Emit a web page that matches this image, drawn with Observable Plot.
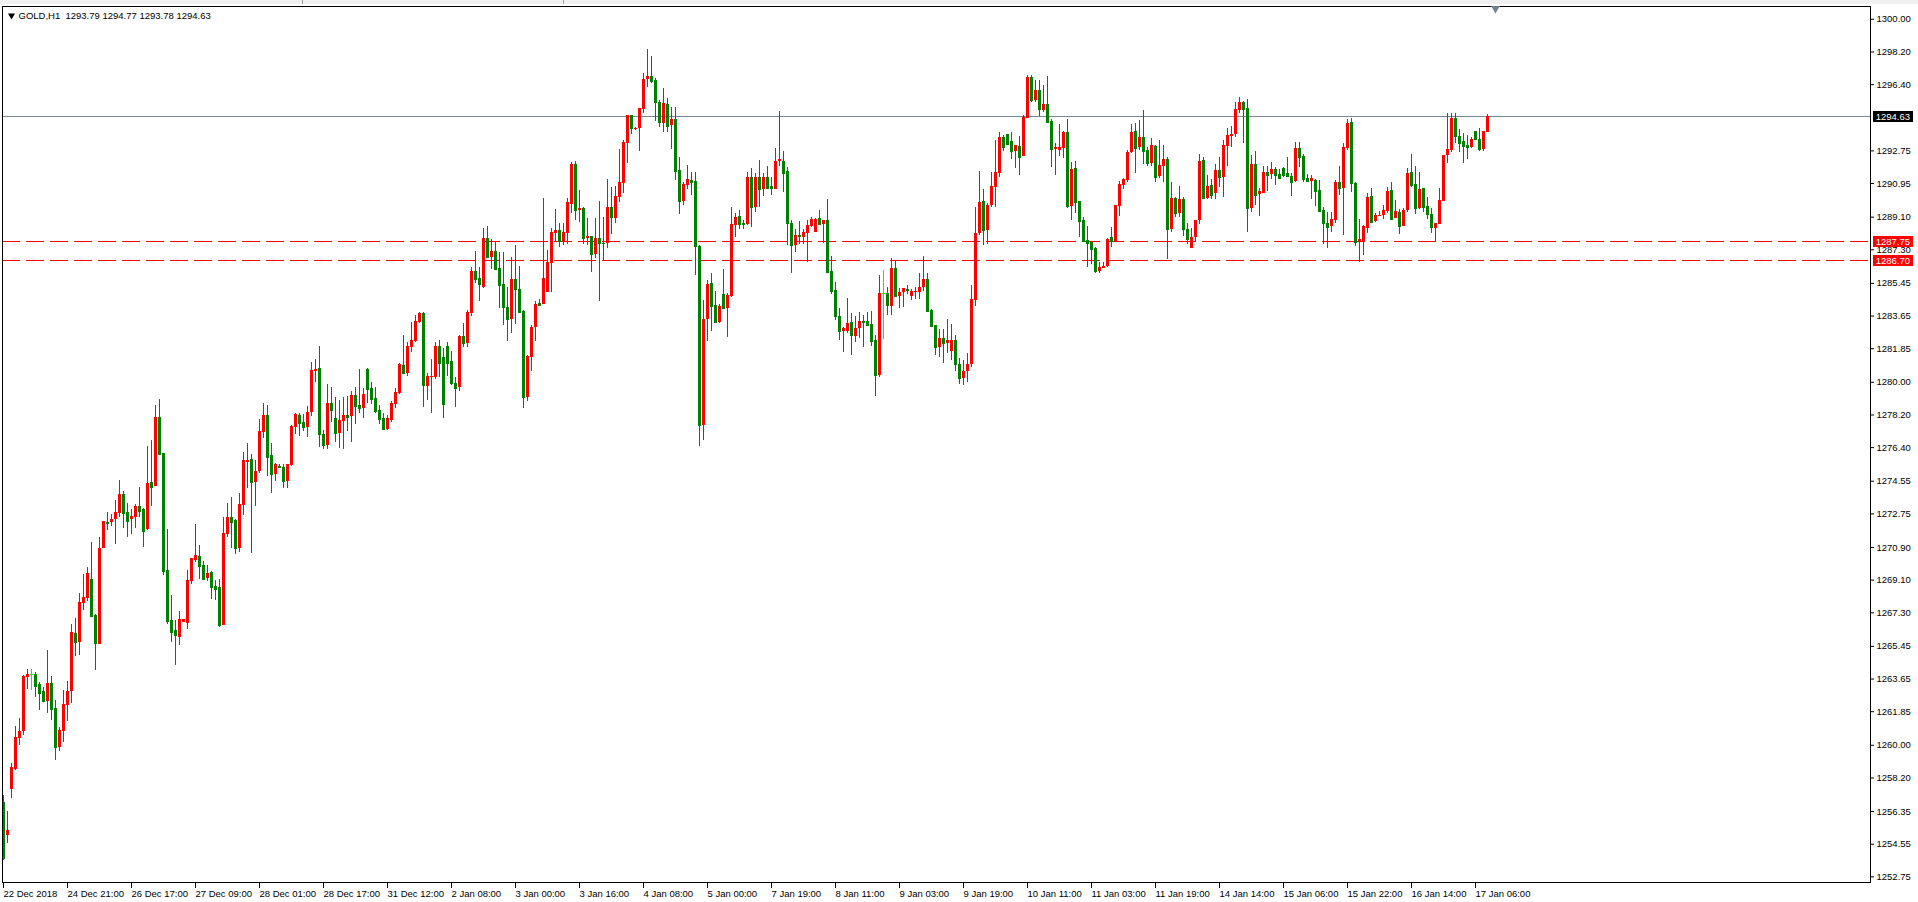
<!DOCTYPE html>
<html><head><meta charset="utf-8">
<script src="https://cdn.jsdelivr.net/npm/d3@7"></script>
<script src="https://cdn.jsdelivr.net/npm/@observablehq/plot@0.6"></script>
<style>
html,body{margin:0;padding:0;background:#fff;overflow:hidden;}
#wrap{position:relative;width:1918px;height:902px;overflow:hidden;background:#fff;}
#wrap svg{position:absolute;left:0;top:0;}
.strip{position:absolute;background:#f0f0f0;}
.sep{position:absolute;background:#a0a0a0;width:1px;top:0;height:4px;}
</style></head>
<body><div id="wrap"></div>
<script>
// ---- data (GOLD H1) ----
const symbolTitle = "GOLD,H1\u00a0\u00a01293.79 1294.77 1293.78 1294.63";
const openP = [
1256.87,1255.03,1257.58,1258.67,1260.39,1260.78,1263.75,1263.88,1263.90,1263.35,
1262.97,1262.43,1263.41,1262.03,1259.90,1260.76,1262.19,1262.98,1266.14,1265.68,
1267.83,1268.09,1269.12,1267.15,1265.57,1270.86,1272.28,1272.29,1272.46,1272.79,
1273.82,1272.83,1272.46,1272.57,1273.16,1272.99,1271.89,1274.46,1274.28,1278.04,
1276.06,1269.61,1266.88,1266.33,1265.96,1266.78,1266.73,1269.04,1270.18,1270.40,
1269.91,1269.21,1269.52,1268.75,1268.69,1266.60,1271.62,1272.57,1272.39,1270.84,
1273.21,1275.60,1275.73,1274.50,1275.09,1277.25,1278.17,1275.97,1274.92,1275.36,
1275.29,1274.55,1275.42,1277.53,1278.17,1277.80,1277.49,1278.34,1280.60,1280.76,
1277.11,1276.52,1278.83,1277.99,1277.20,1277.86,1278.17,1278.12,1279.25,1278.72,
1278.57,1280.71,1279.66,1279.09,1278.45,1277.99,1277.40,1277.90,1278.79,1279.40,
1280.94,1280.47,1281.94,1282.27,1283.31,1283.77,1279.79,1280.28,1280.28,1281.97,
1281.38,1281.97,1281.15,1279.95,1279.73,1282.52,1282.16,1283.81,1286.10,1285.70,
1285.24,1287.91,1286.90,1287.21,1286.25,1285.39,1284.10,1283.44,1285.66,1285.09,
1283.90,1279.18,1281.38,1283.00,1284.32,1284.29,1284.97,1286.56,1288.18,1288.36,
1287.72,1288.22,1289.80,1292.00,1289.47,1289.57,1287.94,1288.03,1287.04,1287.94,
1287.67,1287.63,1289.65,1289.04,1290.20,1290.97,1293.17,1294.70,1293.91,1293.97,
1295.01,1296.66,1296.85,1296.63,1295.43,1294.28,1295.31,1294.15,1294.48,1291.67,
1289.98,1290.84,1291.12,1291.06,1287.50,1277.62,1283.44,1285.46,1284.23,1283.31,
1284.83,1284.08,1284.73,1288.64,1289.14,1288.77,1288.68,1291.30,1289.65,1291.30,
1290.62,1291.27,1290.81,1290.62,1292.17,1292.17,1291.61,1288.77,1287.54,1288.09,
1287.99,1288.22,1288.60,1288.27,1289.01,1288.69,1288.91,1286.12,1285.06,1283.63,
1282.82,1282.82,1283.31,1282.52,1282.94,1283.35,1283.37,1283.18,1282.30,1280.37,
1284.87,1284.87,1284.19,1286.25,1284.72,1284.93,1285.09,1284.74,1284.93,1284.96,
1285.20,1285.66,1283.96,1283.13,1281.94,1282.40,1282.12,1281.70,1282.30,1281.00,
1280.20,1280.60,1281.00,1284.50,1288.18,1289.96,1288.36,1289.74,1290.75,1291.52,
1293.47,1293.63,1293.27,1292.73,1292.99,1292.46,1294.55,1296.81,1295.53,1296.08,
1294.98,1295.31,1294.39,1292.83,1292.77,1292.90,1293.78,1289.69,1291.80,1289.96,
1288.91,1287.81,1287.72,1287.39,1286.12,1286.29,1286.38,1287.96,1287.77,1289.70,
1290.84,1291.12,1292.64,1293.82,1292.92,1293.47,1292.77,1292.07,1292.99,1291.36,
1291.89,1292.28,1288.40,1290.11,1289.28,1290.05,1288.42,1287.35,1287.96,1288.91,
1292.22,1290.11,1290.84,1290.38,1291.67,1291.27,1293.01,1293.54,1293.65,1294.98,
1295.43,1295.07,1289.59,1292.00,1290.35,1290.42,1291.56,1291.45,1291.72,1291.45,
1291.80,1291.49,1291.34,1291.08,1292.90,1292.46,1291.21,1291.08,1291.12,1290.57,
1289.46,1288.73,1288.60,1288.91,1291.03,1290.70,1292.90,1294.33,1290.97,1287.72,
1287.72,1288.49,1290.24,1288.88,1289.15,1289.19,1289.41,1290.57,1289.04,1289.37,
1288.60,1289.46,1291.54,1290.90,1289.56,1290.66,1289.69,1289.25,1288.49,1288.69,
1289.98,1292.50,1292.77,1294.55,1293.54,1293.27,1293.05,1292.95,1293.82,1293.36,
1292.81,1293.79];
const highP = [
1257.23,1256.35,1258.98,1261.05,1261.48,1263.82,1264.20,1264.18,1264.03,1263.48,
1263.20,1265.22,1263.79,1262.47,1261.00,1263.02,1263.52,1266.66,1266.99,1268.35,
1269.41,1269.78,1271.16,1267.21,1271.43,1272.35,1272.83,1272.72,1273.49,1274.59,
1273.98,1273.32,1272.97,1273.27,1274.19,1273.03,1276.48,1276.79,1278.72,1279.05,
1276.10,1271.89,1268.25,1266.88,1267.37,1266.93,1269.63,1270.31,1272.17,1271.01,
1270.13,1269.91,1269.56,1269.08,1269.14,1272.53,1273.30,1273.63,1272.44,1273.86,
1276.15,1276.61,1276.02,1275.69,1277.93,1278.81,1278.72,1276.65,1275.51,1275.47,
1275.47,1275.47,1277.62,1278.30,1278.26,1278.23,1278.67,1281.07,1281.26,1281.99,
1277.34,1279.88,1279.73,1279.18,1279.00,1279.18,1279.22,1279.49,1279.73,1280.71,
1279.64,1280.74,1279.99,1279.70,1278.72,1278.26,1278.17,1278.94,1279.64,1281.02,
1282.58,1282.21,1283.31,1283.68,1283.86,1283.86,1280.47,1281.26,1282.21,1282.30,
1281.84,1282.21,1281.70,1280.28,1282.58,1283.22,1283.96,1286.34,1287.23,1286.34,
1288.49,1288.58,1287.87,1287.72,1287.13,1287.17,1285.24,1286.86,1287.54,1286.40,
1283.96,1281.46,1283.11,1284.47,1284.56,1290.13,1287.26,1288.45,1289.52,1288.73,
1288.73,1290.13,1292.13,1292.17,1290.57,1289.65,1289.01,1288.05,1289.01,1289.96,
1289.10,1291.17,1290.75,1290.81,1292.83,1293.32,1294.72,1294.72,1294.06,1295.10,
1296.99,1298.34,1297.95,1296.76,1295.53,1296.17,1295.62,1295.16,1295.16,1292.40,
1291.03,1291.94,1291.58,1291.58,1287.55,1284.51,1285.61,1285.97,1285.02,1284.27,
1286.20,1284.91,1289.65,1289.32,1289.47,1288.91,1291.54,1291.76,1291.52,1292.22,
1291.49,1291.89,1291.30,1292.86,1294.92,1292.72,1291.85,1288.91,1288.42,1288.86,
1288.42,1288.91,1289.10,1289.01,1289.47,1288.93,1290.07,1286.93,1285.52,1284.05,
1283.04,1284.63,1283.77,1283.62,1283.86,1283.68,1283.86,1283.92,1282.58,1285.88,
1286.16,1285.24,1286.80,1286.71,1285.19,1285.17,1285.33,1285.09,1285.24,1286.01,
1286.93,1285.97,1284.00,1283.15,1282.89,1282.89,1283.44,1283.18,1282.60,1281.30,
1281.20,1281.60,1285.33,1289.65,1291.63,1290.62,1289.83,1291.58,1293.32,1293.78,
1293.60,1293.65,1293.78,1293.07,1293.54,1294.70,1296.90,1296.90,1296.63,1296.63,
1296.35,1296.85,1294.48,1293.17,1294.20,1293.80,1294.48,1292.09,1292.17,1289.98,
1289.10,1288.58,1287.74,1287.45,1286.62,1286.62,1287.94,1288.51,1289.76,1291.08,
1291.21,1292.77,1294.20,1294.28,1294.42,1294.98,1292.92,1293.41,1293.05,1293.32,
1293.05,1292.37,1290.99,1290.20,1290.79,1290.20,1288.73,1288.46,1288.93,1292.53,
1292.37,1291.39,1291.17,1292.00,1292.40,1293.32,1293.97,1294.11,1295.43,1295.67,
1295.47,1295.58,1292.50,1292.72,1290.66,1291.89,1291.89,1292.13,1291.82,1291.70,
1291.82,1292.40,1291.52,1293.23,1293.23,1292.53,1291.45,1291.39,1291.16,1291.12,
1289.65,1289.37,1289.37,1291.12,1291.89,1293.18,1294.46,1294.55,1291.02,1288.97,
1288.62,1290.42,1290.70,1289.28,1289.41,1289.74,1290.75,1290.99,1290.02,1289.50,
1289.56,1291.76,1292.55,1291.89,1291.58,1290.70,1290.20,1289.56,1288.77,1290.70,
1292.52,1294.79,1294.79,1294.83,1293.91,1293.69,1293.60,1293.47,1293.84,1293.97,
1293.84,1294.77];
const lowP = [
1253.65,1254.61,1257.09,1258.61,1260.01,1260.54,1263.09,1263.04,1262.65,1261.92,
1262.34,1261.77,1261.37,1259.16,1259.68,1260.17,1261.33,1262.29,1264.89,1264.95,
1267.43,1267.94,1267.04,1264.12,1265.57,1270.86,1271.84,1272.06,1271.06,1272.57,
1271.96,1271.47,1271.62,1271.93,1272.57,1270.92,1271.84,1273.18,1274.28,1275.97,
1269.36,1266.66,1265.68,1264.40,1265.50,1266.78,1266.38,1268.84,1270.09,1269.14,
1269.14,1269.03,1268.03,1267.98,1266.51,1266.60,1271.47,1270.84,1270.51,1270.62,
1272.66,1274.13,1270.59,1273.16,1274.99,1276.92,1274.81,1273.89,1274.54,1275.29,
1274.13,1274.13,1275.36,1277.12,1277.03,1277.31,1276.98,1278.12,1280.01,1276.43,
1276.28,1276.28,1277.80,1276.67,1276.34,1276.28,1277.31,1276.70,1277.66,1278.26,
1278.03,1278.81,1278.79,1278.30,1277.68,1277.34,1277.34,1277.80,1278.57,1279.31,
1280.41,1280.34,1281.66,1282.21,1283.26,1278.63,1279.00,1278.26,1280.15,1280.28,
1278.03,1280.32,1279.82,1278.59,1279.51,1281.94,1281.94,1283.63,1285.46,1284.47,
1285.19,1286.80,1286.20,1286.16,1284.05,1283.13,1282.27,1282.71,1283.17,1283.83,
1278.54,1278.94,1280.61,1282.25,1284.23,1284.29,1284.97,1284.97,1287.72,1287.41,
1287.54,1287.57,1289.28,1288.90,1288.80,1287.60,1287.54,1286.07,1286.80,1284.47,
1286.71,1287.35,1288.14,1288.77,1289.92,1290.42,1292.07,1293.63,1293.87,1292.73,
1294.79,1296.26,1296.48,1294.39,1294.06,1293.78,1293.78,1292.83,1291.12,1289.25,
1289.74,1290.62,1290.29,1285.88,1276.46,1276.79,1282.25,1282.80,1283.26,1283.26,
1283.99,1282.49,1284.69,1288.00,1288.40,1288.40,1288.64,1288.55,1289.34,1289.65,
1290.26,1290.62,1290.29,1290.62,1291.89,1290.48,1287.54,1286.01,1287.13,1287.59,
1287.59,1286.62,1288.55,1288.23,1288.64,1287.63,1285.97,1284.84,1283.40,1282.30,
1281.66,1282.67,1281.48,1282.21,1282.43,1281.94,1283.07,1281.97,1279.22,1280.25,
1282.36,1283.68,1283.68,1284.69,1284.05,1284.14,1284.84,1284.51,1284.54,1284.54,
1285.02,1283.86,1283.03,1281.48,1281.38,1281.05,1281.60,1281.20,1280.60,1279.90,
1279.80,1280.00,1280.80,1284.17,1288.09,1287.54,1287.59,1289.61,1289.61,1291.30,
1292.72,1293.08,1292.27,1291.80,1291.39,1292.44,1294.53,1295.43,1295.43,1294.64,
1294.88,1294.28,1291.85,1291.39,1292.44,1292.35,1289.56,1288.91,1289.32,1288.00,
1287.72,1286.30,1286.49,1285.98,1285.98,1286.25,1286.34,1287.45,1287.72,1289.15,
1290.62,1291.03,1292.59,1291.52,1292.77,1292.00,1291.89,1291.89,1291.03,1291.21,
1290.99,1286.77,1288.23,1289.10,1289.10,1288.05,1287.59,1287.35,1287.72,1288.68,
1290.05,1290.05,1290.05,1290.05,1290.75,1290.16,1291.89,1292.95,1293.47,1294.79,
1293.18,1288.27,1289.37,1289.74,1289.15,1290.38,1290.53,1291.17,1290.84,1291.17,
1291.30,1291.30,1290.24,1291.03,1291.85,1291.03,1291.03,1290.05,1289.70,1289.41,
1287.60,1287.39,1288.27,1288.77,1290.29,1288.09,1292.77,1290.48,1287.48,1286.62,
1286.99,1288.21,1288.77,1288.82,1289.13,1288.97,1289.32,1288.91,1289.01,1288.14,
1288.58,1289.37,1290.75,1289.25,1289.50,1289.37,1288.95,1288.22,1287.72,1288.67,
1289.96,1292.07,1292.68,1293.17,1292.68,1292.07,1292.28,1292.86,1293.36,1292.73,
1292.73,1293.78];
const closeP = [
1253.75,1255.31,1258.76,1260.41,1260.76,1263.79,1263.90,1263.88,1263.26,1262.87,
1262.41,1263.41,1261.99,1259.90,1260.82,1262.25,1262.97,1266.20,1265.68,1267.87,
1268.13,1269.47,1267.10,1265.63,1270.83,1272.31,1272.24,1272.44,1272.83,1273.82,
1272.79,1272.35,1272.61,1273.16,1272.90,1271.80,1274.41,1274.22,1278.04,1276.02,
1269.60,1266.84,1266.23,1266.05,1266.93,1266.93,1269.08,1270.27,1270.46,1269.87,
1269.14,1269.48,1268.69,1268.58,1266.60,1271.65,1272.57,1272.29,1270.84,1273.25,
1275.69,1275.69,1274.50,1275.09,1277.29,1278.17,1275.88,1274.92,1275.47,1275.33,
1274.55,1275.47,1277.57,1278.23,1277.75,1277.53,1278.34,1280.65,1280.71,1277.11,
1276.52,1278.83,1278.45,1277.20,1277.90,1278.17,1278.08,1279.25,1278.68,1278.54,
1279.31,1279.62,1279.07,1278.41,1277.93,1277.40,1277.99,1278.83,1279.42,1280.98,
1280.47,1281.97,1282.30,1283.35,1283.77,1279.82,1280.32,1280.32,1281.97,1281.05,
1278.79,1281.05,1279.91,1279.68,1282.52,1282.16,1283.85,1286.10,1285.68,1285.37,
1287.94,1286.90,1287.21,1286.22,1285.35,1284.10,1283.44,1285.66,1285.09,1283.86,
1279.18,1281.42,1283.04,1284.29,1284.23,1285.70,1286.62,1288.23,1288.36,1287.76,
1288.23,1289.91,1292.00,1289.47,1289.57,1287.94,1288.03,1287.04,1287.94,1287.63,
1287.63,1289.65,1289.10,1290.26,1291.01,1293.23,1294.70,1293.97,1294.00,1295.07,
1296.68,1296.85,1296.59,1295.40,1294.33,1295.34,1294.11,1294.48,1291.63,1289.96,
1290.90,1291.16,1291.03,1287.50,1277.62,1283.46,1285.39,1284.17,1283.31,1284.19,
1284.05,1284.78,1288.69,1289.06,1288.69,1288.68,1291.30,1289.65,1291.30,1290.62,
1291.27,1290.70,1290.70,1292.17,1292.26,1291.49,1288.73,1287.54,1288.09,1288.05,
1288.27,1288.64,1288.97,1288.97,1288.69,1288.91,1286.07,1285.02,1283.63,1282.82,
1282.94,1283.26,1282.58,1282.98,1283.37,1283.28,1283.13,1282.25,1280.37,1284.87,
1284.87,1284.23,1286.25,1284.72,1284.93,1285.15,1285.06,1285.02,1285.02,1285.20,
1285.66,1283.92,1283.07,1281.94,1282.40,1282.16,1282.30,1282.30,1281.00,1280.20,
1280.60,1281.00,1284.54,1288.18,1289.89,1288.36,1289.74,1290.79,1291.54,1293.47,
1292.96,1293.10,1292.73,1293.05,1292.40,1294.61,1296.81,1295.53,1296.08,1295.03,
1295.31,1294.33,1292.83,1292.92,1292.96,1293.78,1289.69,1291.72,1289.92,1288.88,
1287.77,1287.67,1287.32,1286.12,1286.31,1286.38,1287.85,1287.77,1289.74,1290.90,
1291.17,1292.68,1293.78,1292.90,1293.47,1292.73,1292.07,1293.05,1291.30,1291.94,
1292.28,1288.40,1290.14,1289.28,1290.05,1288.40,1287.87,1287.96,1288.91,1292.16,
1290.11,1290.79,1290.29,1291.67,1291.27,1293.05,1293.60,1293.65,1295.03,1295.43,
1295.03,1289.59,1292.00,1290.29,1290.51,1291.54,1291.39,1291.72,1291.39,1291.25,
1291.39,1291.36,1291.03,1292.90,1292.40,1291.16,1291.08,1291.21,1290.53,1289.43,
1288.73,1288.55,1288.95,1291.03,1290.66,1292.95,1294.28,1290.97,1287.72,1287.85,
1288.60,1290.20,1288.82,1289.19,1289.19,1289.46,1290.51,1288.97,1289.41,1288.60,
1289.46,1291.52,1290.84,1289.56,1290.62,1289.65,1289.23,1288.55,1288.73,1290.02,
1292.50,1292.83,1294.55,1293.54,1293.17,1293.01,1292.95,1293.36,1293.38,1292.81,
1293.82,1294.63];
const timeLabels = ["22 Dec 2018","24 Dec 21:00","26 Dec 17:00","27 Dec 09:00","28 Dec 01:00","28 Dec 17:00",
"31 Dec 12:00","2 Jan 08:00","3 Jan 00:00","3 Jan 16:00","4 Jan 08:00","5 Jan 00:00","7 Jan 19:00",
"8 Jan 11:00","9 Jan 03:00","9 Jan 19:00","10 Jan 11:00","11 Jan 03:00","11 Jan 19:00","14 Jan 14:00",
"15 Jan 06:00","15 Jan 22:00","16 Jan 14:00","17 Jan 06:00"];
const barsPerLabel = 16;
const priceTicks = [1300.00,1298.20,1296.40,1292.75,1290.95,1289.10,1287.30,1285.45,1283.65,1281.85,
1280.00,1278.20,1276.40,1274.55,1272.75,1270.90,1269.10,1267.30,1265.45,1263.65,1261.85,1260.00,
1258.20,1256.35,1254.55,1252.75];
const levelLines = [1287.75, 1286.70];
const currentPrice = 1294.63;

// ---- build ----
const bars = openP.map((o, i) => ({i, o, h: highP[i], l: lowP[i], c: closeP[i]}));
const UP = "#ff0000", DOWN = "#008000", DOJI = "#00ff00";
const colorOf = d => d.c > d.o ? UP : d.c < d.o ? DOWN : DOJI;
const xMin = -0.25, xMax = 466.75;
const tickIdx = timeLabels.map((_, k) => k * barsPerLabel);
const boxes = [
  {v: currentPrice, bg: "#000000"},
  ...levelLines.map(v => ({v, bg: "#ff0000"}))
];
const FONT = "Tahoma, 'Liberation Sans', Arial, sans-serif";
const crisp = {shapeRendering: "crispEdges"};

const chart = Plot.plot({
  width: 1918, height: 902,
  marginLeft: 2, marginRight: 48, marginTop: 6, marginBottom: 20,
  style: {background: "white", fontFamily: FONT, fontSize: "9.5px", color: "black"},
  x: {type: "linear", domain: [xMin, xMax], axis: null, label: null},
  y: {type: "linear", domain: [1252.44, 1300.705], axis: null, label: null},
  marks: [
    Plot.ruleY(levelLines, {stroke: "#ff0000", strokeWidth: 1, strokeDasharray: "18,6", ...crisp}),
    Plot.ruleY([currentPrice], {stroke: "#778899", strokeWidth: 1, ...crisp}),
    Plot.ruleX(bars, {x: "i", y1: "l", y2: "h", stroke: colorOf, strokeWidth: 1, ...crisp}),
    Plot.ruleX(bars, {x: "i", y1: d => Math.min(d.o, d.c), y2: d => Math.max(d.o, d.c), stroke: colorOf, strokeWidth: 3, ...crisp}),
    Plot.ruleY(bars, {y: "c", x1: d => d.i - 0.375, x2: d => d.i + 0.375, stroke: colorOf, strokeWidth: 1, ...crisp}),
    Plot.frame({stroke: "black", strokeWidth: 1, ...crisp}),
    Plot.axisY(priceTicks, {anchor: "right", label: null, tickSize: 3, tickPadding: 3, tickFormat: d => d.toFixed(2), stroke: "black", fill: "black"}),
    Plot.axisX(tickIdx, {anchor: "bottom", label: null, tickSize: 6, tickPadding: 2, textAnchor: "start", dx: 0,
      tickFormat: i => timeLabels[i / barsPerLabel], stroke: "black", fill: "black"}),
    Plot.ruleY(boxes, {y: "v", x1: () => xMax + 0.8, x2: () => xMax + 10.65, stroke: "bg", strokeWidth: 11, ...crisp}),
    Plot.text(boxes, {y: "v", x: () => xMax + 1.3, text: d => d.v.toFixed(2), fill: "white", textAnchor: "start"}),
    Plot.text([symbolTitle], {frameAnchor: "top-left", dx: 16, dy: 9, text: d => d, textAnchor: "start", lineAnchor: "middle", fill: "black", fontSize: 9.5}),
    Plot.dot([0], {frameAnchor: "top-left", dx: 9, dy: 9, symbol: "triangle", rotate: 180, r: 2.6, fill: "black", stroke: "none"}),
    Plot.dot([0], {x: () => 373, frameAnchor: "top", dy: 2, symbol: "triangle", rotate: 180, r: 3.2, fill: "#708090", stroke: "none"})
  ]
});
const wrap = document.getElementById("wrap");
wrap.appendChild(chart);
// window chrome: thin top strip with separators
const topStrip = document.createElement("div"); topStrip.className = "strip";
topStrip.style.left = "0px"; topStrip.style.top = "0px"; topStrip.style.width = "1918px"; topStrip.style.height = "4px";
wrap.appendChild(topStrip);
[302, 563].forEach(x => { const s = document.createElement("div"); s.className = "sep"; s.style.left = x + "px"; wrap.appendChild(s); });
</script>
</body></html>
